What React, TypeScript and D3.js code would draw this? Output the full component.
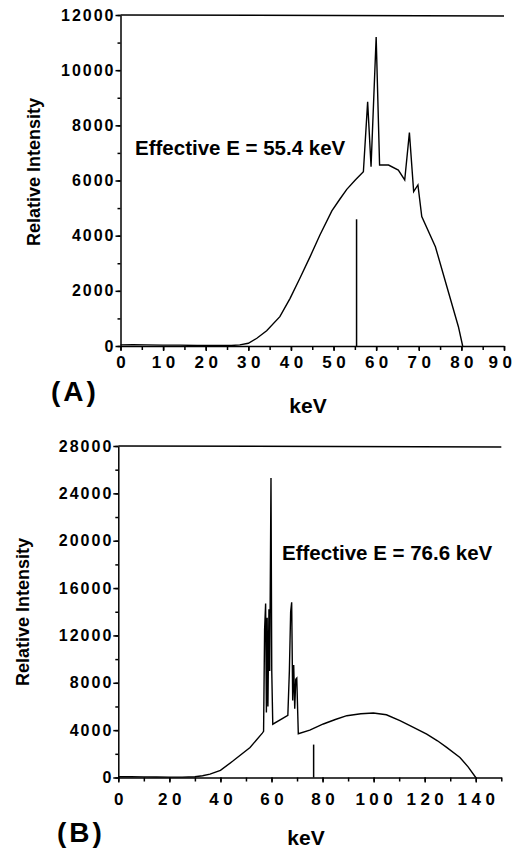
import React, { useRef, useEffect } from 'react'
import * as d3 from 'd3'

// spectrum (A)
const energyA = [0, 3, 6, 10, 14, 18, 22, 26, 28, 30, 32, 34.3, 37.4, 39.8, 42.1, 44.5, 46.8, 49.6, 51.5, 53.1, 55.1, 57.0, 58.0, 58.8, 60.0, 60.8, 62.9, 65.2, 66.7, 67.8, 68.8, 69.8, 70.7, 73.9, 76.6, 79.3, 80.3]
const intensityA = [40, 50, 40, 30, 30, 20, 20, 20, 40, 100, 280, 555, 1063, 1728, 2454, 3240, 4025, 4900, 5330, 5680, 6019, 6320, 8850, 6500, 11200, 6560, 6560, 6380, 6020, 7735, 5600, 5840, 4690, 3600, 2150, 700, 0]
const effectiveA = { keV: 55.4, intensity: 4594, label: '55.4' }
const xTicksA = [0, 10, 20, 30, 40, 50, 60, 70, 80, 90]
const xMinorA = d3.range(0, 91, 5)
const yTicksA = [0, 2000, 4000, 6000, 8000, 10000, 12000]
const yMinorA = d3.range(0, 12001, 1000)

// spectrum (B)
const energyB = [0, 5, 10, 15, 20, 25, 30, 33, 35.9, 40, 45, 51.6, 56.4, 56.9, 57.3, 57.7, 58.0, 58.3, 58.6, 59.0, 59.3, 59.8, 60.1, 60.5, 66.4, 67.0, 67.5, 67.9, 68.3, 68.7, 69.1, 69.5, 69.9, 70.2, 70.5, 75, 80.3, 85, 89.5, 95, 99.9, 105, 110.3, 115, 120.8, 125, 128.6, 133.8, 137, 140]
const intensityB = [60, 60, 50, 40, 30, 30, 60, 150, 285, 600, 1410, 2540, 3750, 3900, 12500, 14700, 5500, 13500, 6000, 14200, 9000, 25300, 9000, 4500, 5250, 9000, 14000, 14800, 6500, 9500, 5800, 8300, 8400, 6000, 3700, 4000, 4520, 4900, 5220, 5380, 5450, 5300, 4800, 4300, 3670, 3100, 2540, 1690, 900, 0]
const effectiveB = { keV: 76.5, intensity: 2780, label: '76.6' }
const xTicksB = [0, 20, 40, 60, 80, 100, 120, 140]
const xMinorB = d3.range(0, 151, 10)
const yTicksB = [0, 4000, 8000, 12000, 16000, 20000, 24000, 28000]
const yMinorB = d3.range(0, 28001, 2000)

const FONT = '"Liberation Sans", Arial, Helvetica, sans-serif'

function Panel(p) {
  const ref = useRef(null)
  useEffect(() => {
    const g = d3.select(ref.current)
    g.selectAll('*').remove()
    const x = d3.scaleLinear().domain(p.xDomain).range([p.left, p.right])
    const y = d3.scaleLinear().domain(p.yDomain).range([p.bottom, p.top])

    // minor ticks
    g.append('g')
      .attr('transform', `translate(0,${p.bottom})`)
      .call(d3.axisBottom(x).tickValues(p.xMinor).tickSize(4).tickFormat(() => ''))
      .call(s => s.select('.domain').remove())
    g.append('g')
      .attr('transform', `translate(${p.left},0)`)
      .call(d3.axisLeft(y).tickValues(p.yMinor).tickSize(3).tickFormat(() => ''))
      .call(s => s.select('.domain').remove())

    // major axes
    const xa = g.append('g')
      .attr('transform', `translate(0,${p.bottom})`)
      .call(d3.axisBottom(x).tickValues(p.xTicks).tickSize(5).tickSizeOuter(0).tickFormat(d3.format('d')))
    xa.selectAll('text')
      .attr('y', p.xLabelDrop)
      .attr('dy', 0)
      .attr('dx', d => (x(d) + 16 > 516 ? -2 : 2.2))
      .style('font-size', '17px')
      .style('letter-spacing', '4.5px')
    const ya = g.append('g')
      .attr('transform', `translate(${p.left},0)`)
      .call(d3.axisLeft(y).tickValues(p.yTicks).tickSize(5).tickSizeOuter(0).tickPadding(2).tickFormat(d3.format('d')))
    ya.selectAll('text')
      .attr('dx', 2)
      .style('font-size', '16px')
      .style('letter-spacing', '2px')
    g.selectAll('.tick line, .domain').attr('stroke', '#000').attr('stroke-width', 1.5)
    g.selectAll('.tick text').attr('fill', '#000').style('font-family', FONT).style('font-weight', 'bold')

    // top frame line
    g.append('line')
      .attr('x1', p.left).attr('x2', p.right)
      .attr('y1', p.top).attr('y2', p.top + 1)
      .attr('stroke', '#000').attr('stroke-width', 1.5)

    const line = d3.line()
      .x((d, i) => x(p.energy[i]))
      .y((d, i) => y(p.intensity[i]))
    g.append('path')
      .datum(p.intensity)
      .attr('fill', 'none')
      .attr('stroke', '#000')
      .attr('stroke-width', 1.4)
      .attr('d', line)

    // effective energy marker
    g.append('line')
      .attr('x1', x(p.effective.keV)).attr('x2', x(p.effective.keV))
      .attr('y1', y(0)).attr('y2', y(p.effective.intensity))
      .attr('stroke', '#000').attr('stroke-width', 1.5)
  }, [])

  return (
    <g fontFamily={FONT} fontWeight="bold" fill="#000">
      <g ref={ref} />
      <text x={p.effX} y={p.effY} fontSize="20.5px">
        Effective E = {p.effective.label} keV
      </text>
      <text
        transform={`translate(${p.yTitleX},${p.yTitleY}) rotate(-90)`}
        textAnchor="middle"
        fontSize="18px"
      >
        Relative Intensity
      </text>
      <text x={p.keVX} y={p.keVY} textAnchor="middle" fontSize="21px">keV</text>
      <text x={p.tagX} y={p.tagY} fontSize="28px" letterSpacing="3px">{p.tag}</text>
    </g>
  )
}

export default function App() {
  return (
    <svg width="516" height="853" style={{ position: 'absolute', left: 0, top: 0, background: '#fff' }}>
      <Panel
        energy={energyA}
        intensity={intensityA}
        effective={effectiveA}
        xDomain={[0, 90]}
        yDomain={[0, 12000]}
        xTicks={xTicksA}
        xMinor={xMinorA}
        yTicks={yTicksA}
        yMinor={yMinorA}
        left={120.5}
        right={504}
        top={15}
        bottom={346}
        xLabelDrop={22}
        effX={135}
        effY={155}
        yTitleX={40}
        yTitleY={172}
        keVX={308}
        keVY={413}
        tagX={51}
        tagY={401}
        tag="(A)"
      />
      <Panel
        energy={energyB}
        intensity={intensityB}
        effective={effectiveB}
        xDomain={[0, 150]}
        yDomain={[0, 28000]}
        xTicks={xTicksB}
        xMinor={xMinorB}
        yTicks={yTicksB}
        yMinor={yMinorB}
        left={118.3}
        right={501.3}
        top={446}
        bottom={777.5}
        xLabelDrop={27}
        effX={282}
        effY={560}
        yTitleX={29}
        yTitleY={612}
        keVX={306}
        keVY={845}
        tagX={57}
        tagY={842}
        tag="(B)"
      />
    </svg>
  )
}
